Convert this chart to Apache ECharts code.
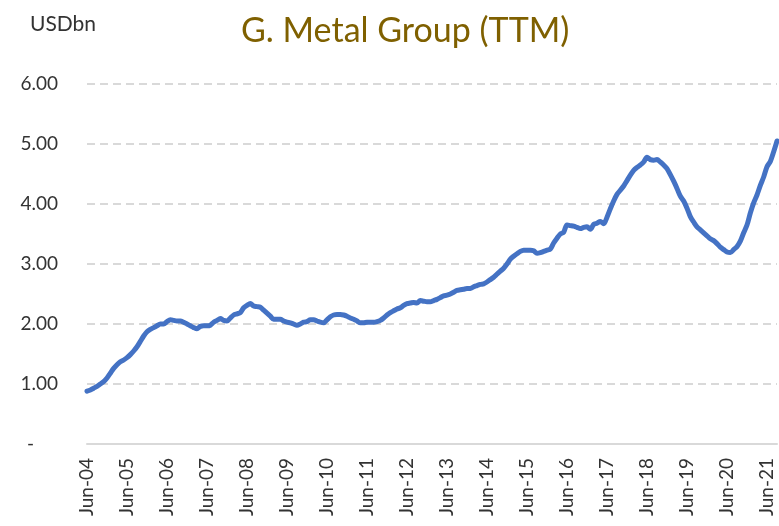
<!DOCTYPE html>
<html>
<head>
<meta charset="utf-8">
<title>G. Metal Group (TTM)</title>
<script src="https://cdn.jsdelivr.net/npm/echarts@6/dist/echarts.min.js"></script>
<style>
  html, body { margin: 0; padding: 0; background: #fff; }
  #chart { width: 779px; height: 526px; }
</style>
</head>
<body>
<div id="chart"></div>
<script>
  // == series starts Jun-04, monthly ==
  const startYear = 2004;
  const startMonth = 5; // June (0-based)
  const monthNames = ['Jan', 'Feb', 'Mar', 'Apr', 'May', 'Jun', 'Jul', 'Aug', 'Sep', 'Oct', 'Nov', 'Dec'];

  // == TTM value, USDbn, one per month ==
  const ttmValues = [
    0.88, 0.90, 0.93, 0.96, 1.00, 1.04, 1.10, 1.18, 1.26, 1.32, 1.37, 1.40,
    1.44, 1.49, 1.55, 1.62, 1.71, 1.80, 1.87, 1.91, 1.94, 1.97, 2.00, 2.00,
    2.04, 2.07, 2.06, 2.05, 2.05, 2.03, 2.00, 1.97, 1.94, 1.92, 1.96, 1.97,
    1.97, 1.98, 2.03, 2.06, 2.09, 2.06, 2.05, 2.10, 2.15, 2.17, 2.19, 2.27,
    2.31, 2.34, 2.30, 2.29, 2.28, 2.23, 2.18, 2.13, 2.08, 2.08, 2.08, 2.05,
    2.03, 2.02, 2.00, 1.98, 2.00, 2.03, 2.04, 2.07, 2.07, 2.05, 2.03, 2.02,
    2.07, 2.12, 2.15, 2.16, 2.16, 2.15, 2.13, 2.10, 2.08, 2.05, 2.02, 2.02,
    2.03, 2.03, 2.03, 2.04, 2.06, 2.10, 2.15, 2.19, 2.22, 2.25, 2.27, 2.31,
    2.34, 2.35, 2.36, 2.35, 2.39, 2.38, 2.37, 2.37, 2.39, 2.41, 2.44, 2.47,
    2.48, 2.50, 2.53, 2.56, 2.57, 2.58, 2.59, 2.59, 2.62, 2.64, 2.66, 2.67,
    2.70, 2.74, 2.78, 2.83, 2.88, 2.93, 3.00, 3.08, 3.13, 3.17, 3.21, 3.23,
    3.23, 3.23, 3.22, 3.18, 3.19, 3.21, 3.23, 3.25, 3.35, 3.43, 3.50, 3.53,
    3.65, 3.64, 3.63, 3.61, 3.59, 3.61, 3.62, 3.58, 3.66, 3.68, 3.71, 3.67,
    3.78, 3.92, 4.05, 4.16, 4.23, 4.30, 4.39, 4.48, 4.56, 4.61, 4.65, 4.70,
    4.78, 4.74, 4.73, 4.74, 4.70, 4.65, 4.59, 4.49, 4.38, 4.26, 4.13, 4.05,
    3.93, 3.79, 3.70, 3.62, 3.57, 3.52, 3.47, 3.42, 3.39, 3.34, 3.28, 3.24,
    3.20, 3.19, 3.24, 3.29, 3.38, 3.52, 3.65, 3.85, 4.02, 4.15, 4.31, 4.45,
    4.62, 4.71, 4.87, 5.05
  ];

  // == y axis ticks ==
  const yTicks = [0, 1, 2, 3, 4, 5, 6];

  // == category labels like "Jun-04" ==
  const categories = ttmValues.map((v, i) => {
    const m = startMonth + i;
    const yy = (startYear + Math.floor(m / 12)) % 100;
    return monthNames[m % 12] + '-' + String(yy).padStart(2, '0');
  });

  const chart = echarts.init(document.getElementById('chart'));
  const option = {
    animation: false,
    backgroundColor: '#fff',
    textStyle: { fontFamily: 'Lato, sans-serif' },
    title: [
      {
        text: 'G. Metal Group (TTM)',
        left: 236,
        top: 9,
        textStyle: { color: '#7F6000', fontSize: 34, fontWeight: 'normal', fontFamily: 'Lato' },
      },
      {
        text: 'USDbn',
        left: 25,
        top: 9,
        textStyle: { color: '#333333', fontSize: 21, fontWeight: 'normal', fontFamily: 'Lato' },
      },
    ],
    grid: {
      left: 87,
      right: 2,
      top: 84,
      bottom: 82,
      containLabel: false,
    },
    xAxis: {
      type: 'category',
      boundaryGap: false,
      data: categories,
      axisLine: { lineStyle: { color: '#d9d9d9', width: 2 } },
      axisTick: { show: false },
      axisLabel: {
        interval: 11,
        rotate: 90,
        margin: 14,
        color: '#333333',
        fontSize: 19,
        fontFamily: 'Lato',
      },
      splitLine: { show: false },
    },
    yAxis: {
      type: 'value',
      min: yTicks[0],
      max: yTicks[yTicks.length - 1],
      interval: 1,
      axisLine: { show: false },
      axisTick: { show: false },
      axisLabel: {
        margin: 29,
        color: '#333333',
        fontSize: 19,
        fontFamily: 'Lato',
        formatter: (v) => (v === 0 ? '{d|-}' : v.toFixed(2)),
        rich: { d: { fontSize: 19, color: '#333333', padding: [0, 24, 0, 0] } },
      },
      splitLine: {
        lineStyle: { color: '#d9d9d9', width: 2, type: [8, 5] },
      },
    },
    series: [
      {
        name: 'TTM',
        type: 'line',
        data: ttmValues,
        showSymbol: false,
        smooth: 0.3,
        lineStyle: { color: '#4472C4', width: 5, cap: 'round', join: 'round' },
        itemStyle: { color: '#4472C4' },
      },
    ],
  };

  option && chart.setOption(option);
</script>
</body>
</html>
